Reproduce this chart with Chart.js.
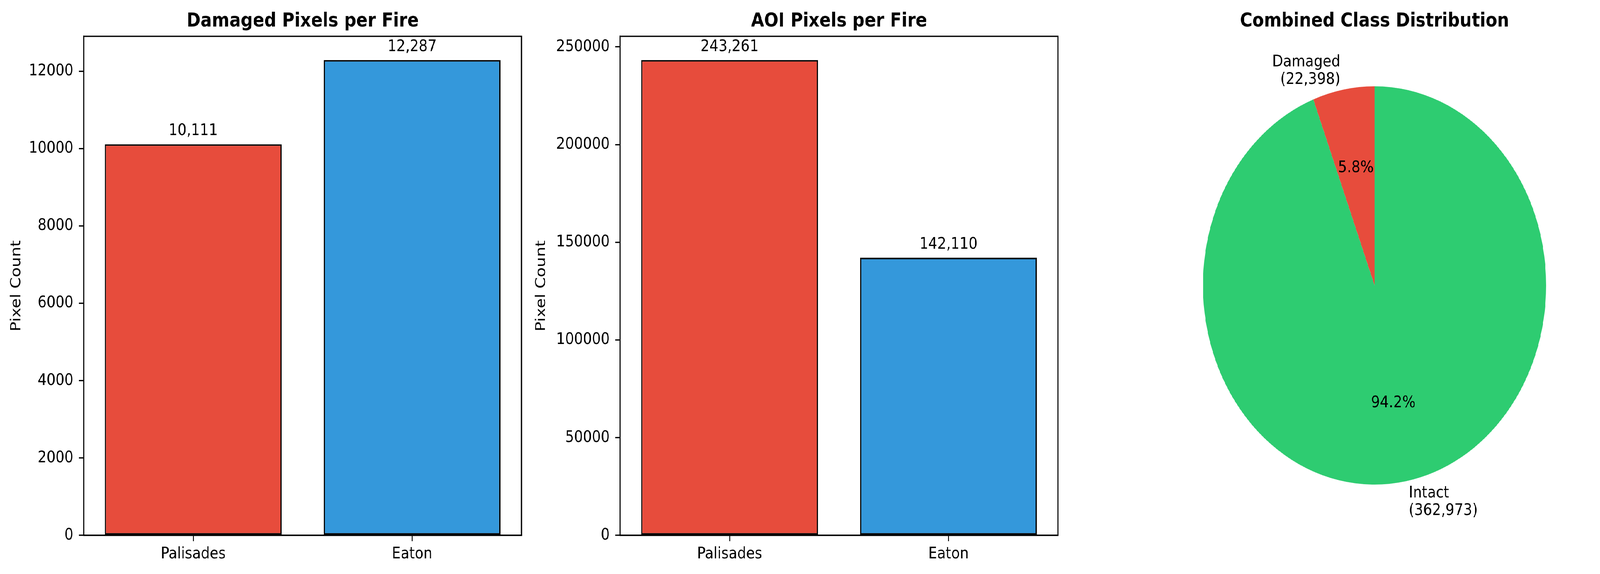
<!DOCTYPE html>
<html>
<head>
<meta charset="utf-8">
<title>Fire pixel counts</title>
<script src="https://cdn.jsdelivr.net/npm/chart.js@4.4.1/dist/chart.umd.min.js"></script>
<style>
  html, body { margin: 0; padding: 0; background: #fff; overflow: hidden; }
  #stage { position: absolute; left: 0; top: 0; width: 4755px; height: 1470px; transform-origin: 0 0; }
  .panel { position: absolute; top: 0; height: 1470px; }
  #p1 { left: 0; width: 1700px; }
  #p2 { left: 1560px; width: 1700px; }
  #p3 { left: 3300px; width: 1455px; }
</style>
</head>
<body>
<div id="stage">
  <div class="panel" id="p1"><canvas id="damagedChart"></canvas></div>
  <div class="panel" id="p2"><canvas id="aoiChart"></canvas></div>
  <div class="panel" id="p3"><canvas id="classChart"></canvas></div>
</div>
<script>
// data
const fires = ['Palisades', 'Eaton'];
const damagedPixels = [10111, 12287];
const aoiPixels = [243261, 142110];
const damagedTicks = [0, 2000, 4000, 6000, 8000, 10000, 12000];
const aoiTicks = [0, 50000, 100000, 150000, 200000, 250000];

const classNames = ['Damaged', 'Intact'];
const classCounts = [22398, 362973];

// colours
const fireColors = ['#e74c3c', '#3498db'];
const classColors = ['#e74c3c', '#2ecc71'];

// the figure is laid out at 4755x1470; squeeze it into the window if the window is narrower
const stage = document.getElementById('stage');
const sx = Math.min(1, window.innerWidth / 4755);
const sy = Math.min(1, window.innerHeight / 1470);
stage.style.transform = 'scale(' + sx + ',' + sy + ')';

const FONT = '"DejaVu Sans", sans-serif';
const TICK_SIZE = 41.67;
Chart.defaults.font.family = FONT;
Chart.defaults.font.size = TICK_SIZE;
Chart.defaults.color = '#000';

const fmt = v => v.toLocaleString('en-US');

// bold title centred above the plot area
const panelTitle = {
	id: 'panelTitle',
	afterDraw(chart, args, opts) {
		const {ctx, chartArea: a} = chart;
		ctx.save();
		ctx.font = 'bold 50px ' + FONT;
		ctx.fillStyle = '#000';
		ctx.textAlign = 'center';
		ctx.textBaseline = 'alphabetic';
		ctx.fillText(opts.text, (a.left + a.right) / 2, 68);
		ctx.restore();
	}
};

// full box around the axes (matplotlib spines)
const frameBox = {
	id: 'frameBox',
	afterDatasetsDraw(chart) {
		const {ctx, chartArea: a} = chart;
		ctx.save();
		ctx.strokeStyle = '#000';
		ctx.lineWidth = 3.3;
		ctx.strokeRect(a.left, a.top, a.right - a.left, a.bottom - a.top);
		ctx.restore();
	}
};

// value written above every bar
const barValueLabels = {
	id: 'barValueLabels',
	afterDatasetsDraw(chart) {
		const {ctx} = chart;
		const values = chart.data.datasets[0].data;
		ctx.save();
		ctx.font = TICK_SIZE + 'px ' + FONT;
		ctx.fillStyle = '#000';
		ctx.textAlign = 'center';
		ctx.textBaseline = 'alphabetic';
		chart.getDatasetMeta(0).data.forEach((bar, i) => {
			ctx.fillText(fmt(values[i]), bar.x, bar.y - 23);
		});
		ctx.restore();
	}
};

// name + count outside each slice, percentage inside
const pieLabels = {
	id: 'pieLabels',
	afterDatasetsDraw(chart) {
		const {ctx} = chart;
		const values = chart.data.datasets[0].data;
		const total = values.reduce((s, v) => s + v, 0);
		ctx.save();
		ctx.font = TICK_SIZE + 'px ' + FONT;
		ctx.fillStyle = '#000';
		ctx.textBaseline = 'alphabetic';
		chart.getDatasetMeta(0).data.forEach((arc, i) => {
			const p = arc.getProps(['x', 'y', 'startAngle', 'endAngle', 'outerRadius'], true);
			const mid = (p.startAngle + p.endAngle) / 2;
			const c = Math.cos(mid), s = Math.sin(mid);

			const lx = p.x + 1.1 * p.outerRadius * c;
			const ly = p.y + 1.1 * p.outerRadius * s;
			const lines = [chart.data.labels[i], '(' + fmt(values[i]) + ')'];
			ctx.textAlign = lx < p.x ? 'right' : 'left';
			lines.forEach((t, k) => {
				ctx.fillText(t, lx, ly + (k - (lines.length - 1) / 2) * 45 + 13.5);
			});

			ctx.textAlign = 'center';
			const pct = (values[i] / total * 100).toFixed(1) + '%';
			ctx.fillText(pct, p.x + 0.6 * p.outerRadius * c, p.y + 0.6 * p.outerRadius * s + 11);
		});
		ctx.restore();
	}
};

function barChart(canvasId, title, values, ticks, yWidth, titlePad, rightPad) {
	const ctx = document.getElementById(canvasId).getContext('2d');
	return new Chart(ctx, {
		type: 'bar',
		data: {
			labels: fires,
			datasets: [{
				data: values,
				backgroundColor: fireColors,
				borderColor: '#000',
				borderWidth: 4,
				borderSkipped: false,
				barPercentage: 0.8 * 2 / 1.98,
				categoryPercentage: 1
			}]
		},
		options: {
			animation: false,
			responsive: true,
			maintainAspectRatio: false,
			layout: { padding: { top: 93, right: rightPad, bottom: 0, left: 0 } },
			plugins: {
				legend: { display: false },
				tooltip: { enabled: false },
				panelTitle: { text: title }
			},
			scales: {
				x: {
					afterFit: scale => { scale.height = 99; },
					ticks: { padding: 8, color: '#000' },
					grid: { offset: false, drawOnChartArea: false, tickLength: 15, lineWidth: 3.3, color: '#000' },
					border: { display: true, color: '#000', width: 3.3 }
				},
				y: {
					min: 0,
					max: Math.max(...values) * 1.05,
					afterFit: scale => { scale.width = yWidth; },
					afterBuildTicks: scale => { scale.ticks = ticks.map(v => ({ value: v })); },
					ticks: { padding: 16, color: '#000', callback: v => String(v) },
					grid: { drawOnChartArea: false, tickLength: 15, lineWidth: 3.3, color: '#000' },
					border: { display: true, color: '#000', width: 3.3 },
					title: { display: true, text: 'Pixel Count', color: '#000', padding: { top: 24, bottom: 0 } }
				}
			}
		},
		plugins: [panelTitle, frameBox, barValueLabels]
	});
}

barChart('damagedChart', 'Damaged Pixels per Fire', damagedPixels, damagedTicks, 249, 24, 150);
barChart('aoiChart', 'AOI Pixels per Fire', aoiPixels, aoiTicks, 283, 30, 116);

// pie: first slice ends at 12 o'clock, as with startangle=90 counter-clockwise
const classTotal = classCounts.reduce((s, v) => s + v, 0);
const pieCtx = document.getElementById('classChart').getContext('2d');
new Chart(pieCtx, {
	type: 'pie',
	data: {
		labels: classNames,
		datasets: [{
			data: classCounts,
			backgroundColor: classColors,
			borderWidth: 0,
			hoverOffset: 0
		}]
	},
	options: {
		animation: false,
		responsive: true,
		maintainAspectRatio: false,
		rotation: -360 * classCounts[0] / classTotal,
		layout: { padding: { top: 221, right: 160, bottom: 229, left: 275 } },
		plugins: {
			legend: { display: false },
			tooltip: { enabled: false },
			panelTitle: { text: 'Combined Class Distribution' }
		}
	},
	plugins: [panelTitle, pieLabels]
});
</script>
</body>
</html>
